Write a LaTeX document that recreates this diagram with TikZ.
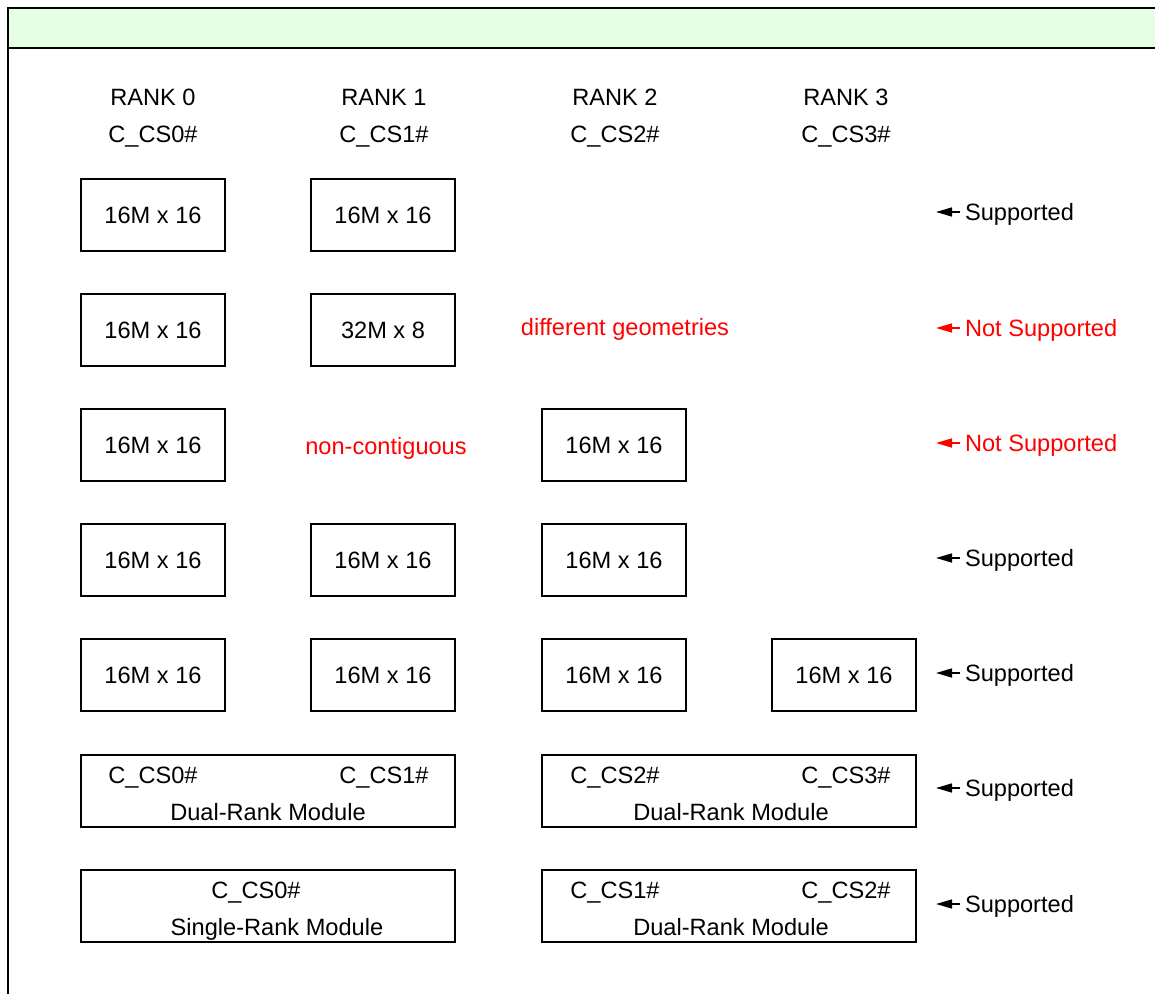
\documentclass[tikz,border=0pt]{standalone}
\usepackage{fontspec}
\setmainfont{Liberation Sans}
\usetikzlibrary{arrows.meta}
\definecolor{hdrgreen}{RGB}{229,255,229}

\begin{document}
\begin{tikzpicture}[x=0.5pt, y=-0.5pt,
  every node/.style={font=\fontsize{11.8}{14}\selectfont, inner sep=0pt,
    text height=8.4pt, text depth=0pt},
  chip/.style={draw, line width=0.75pt, minimum width=72pt, minimum height=36pt},
  module/.style={draw, line width=0.75pt, minimum width=187pt, minimum height=36pt},
  bad/.style={red},
  ptr/.style={-{Triangle[length=8pt,width=4.5pt]}, line width=0.8pt}]

  \useasboundingbox (0,0) rectangle (1155,994);

  % Frame and header bar
  \fill[hdrgreen] (8,8) rectangle (1160,48);
  \draw[line width=0.75pt] (1160,8) -- (8,8) -- (8,1000);
  \draw[line width=0.75pt] (8,48) -- (1160,48);

  % Rank and chip select labels
  \foreach \i/\x in {0/153,1/384,2/615,3/846} {
    \node (rank\i) at (\x,97) {RANK \i};
    \node (cs\i) at (\x,134) {C\_CS\i\#};
  }

  % Row 1
  \node[chip] (a0) at (153,215) {16M x 16};
  \node[chip] (a1) at (383,215) {16M x 16};

  % Row 2
  \node[chip] (b0) at (153,330) {16M x 16};
  \node[chip] (b1) at (383,330) {32M x 8};
  \node[bad] (geom) at (625,327) {different geometries};

  % Row 3
  \node[chip] (c0) at (153,445) {16M x 16};
  \node[bad] (gap) at (386,446) {non-contiguous};
  \node[chip] (c2) at (614,445) {16M x 16};

  % Row 4
  \foreach \i/\x in {0/153,1/383,2/614}
    \node[chip] (d\i) at (\x,560) {16M x 16};

  % Row 5
  \foreach \i/\x in {0/153,1/383,2/614,3/844}
    \node[chip] (e\i) at (\x,675) {16M x 16};

  % Row 6: two dual-rank modules
  \node[module] (f0) at (268,791) {};
  \node (f0a) at (153,775) {C\_CS0\#};
  \node (f0b) at (384,775) {C\_CS1\#};
  \node (f0c) at (268,812) {Dual-Rank Module};
  \node[module] (f1) at (729,791) {};
  \node (f1a) at (615,775) {C\_CS2\#};
  \node (f1b) at (846,775) {C\_CS3\#};
  \node (f1c) at (731,812) {Dual-Rank Module};

  % Row 7: single-rank plus dual-rank module
  \node[module] (g0) at (268,906) {};
  \node (g0a) at (256,890) {C\_CS0\#};
  \node (g0c) at (277,927) {Single-Rank Module};
  \node[module] (g1) at (729,906) {};
  \node (g1a) at (615,890) {C\_CS1\#};
  \node (g1b) at (846,890) {C\_CS2\#};
  \node (g1c) at (731,927) {Dual-Rank Module};

  % Verdicts
  \foreach \n/\y/\t/\c in {1/212/Supported/black, 2/328/Not Supported/red,
      3/443/Not Supported/red, 4/558/Supported/black, 5/673/Supported/black,
      6/788/Supported/black, 7/904/Supported/black} {
    \node[anchor=west, text=\c, outer sep=2.5pt] (v\n) at (960,\y) {\t};
    \coordinate (p\n) at (936,\y);
    \draw[ptr, \c] (v\n.west) -- (p\n);
  }

\end{tikzpicture}
\end{document}
